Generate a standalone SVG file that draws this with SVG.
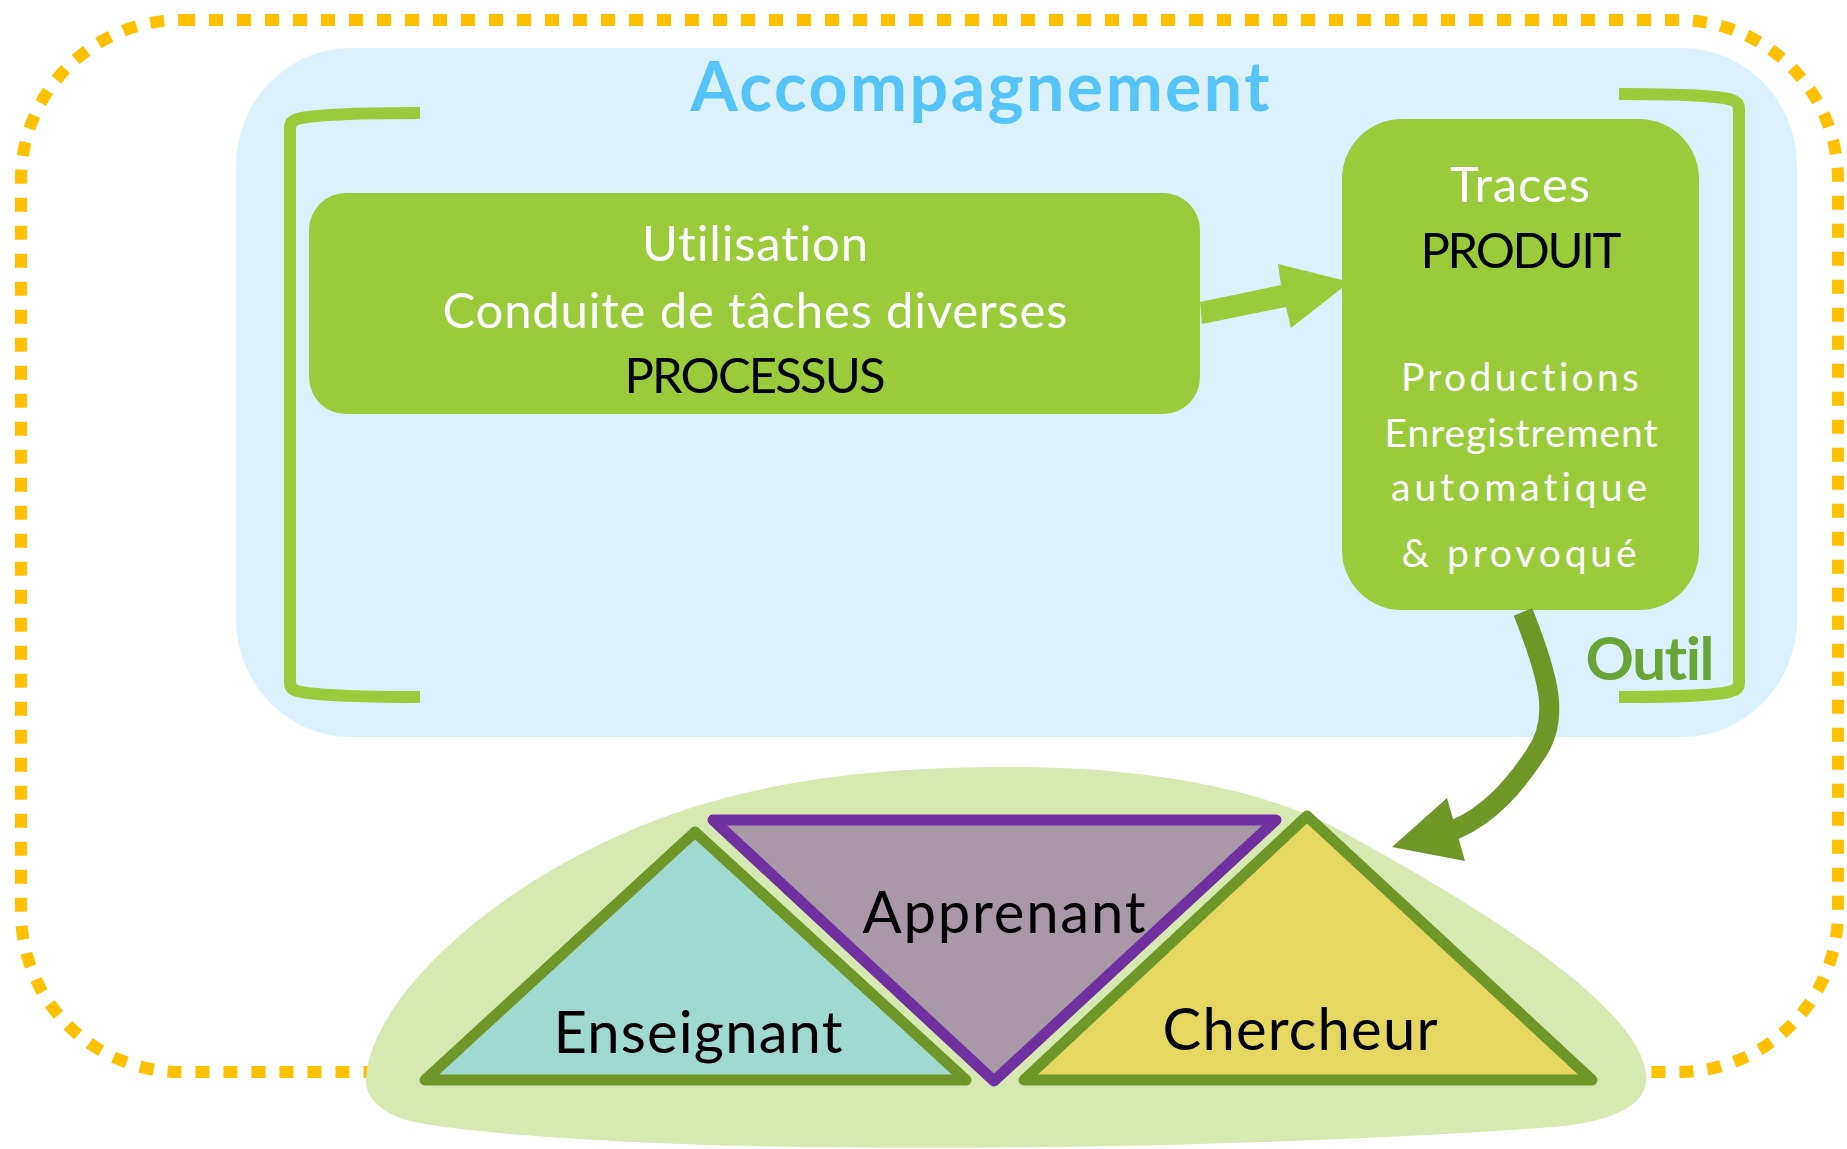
<svg xmlns="http://www.w3.org/2000/svg" width="1847" height="1149" viewBox="0 0 1847 1149">
  <style>
    .lbl { font-family: Lato, "Open Sans", "Liberation Sans", sans-serif; text-anchor: middle; font-variant-ligatures: none; font-feature-settings: "liga" 0, "clig" 0; }
    .box { fill: #9ACB3A; }
    .w { fill: #FFFFFF; }
    .k { fill: #000000; }
    .bracket { fill: none; stroke: #9ACB3A; stroke-width: 12; }
    .tri { stroke-width: 11; stroke-linejoin: round; }
  </style>
  <rect x="0" y="0" width="1847" height="1149" fill="#FFFFFF"/>
  <g id="outer-border">
    <rect x="21" y="20" width="1817" height="1052" rx="160" ry="160" fill="none" stroke="#FFC000" stroke-width="12" stroke-dasharray="14 14"/>
  </g>
  <g id="accompagnement">
    <rect x="236" y="48" width="1561" height="689" rx="115" ry="118" fill="#DBF1FB"/>
    <text class="lbl" x="980" y="111" font-size="68" font-weight="bold" fill="#55C4F8" textLength="579">Accompagnement</text>
  </g>
  <g id="acteurs-fond">
    <path d="M366,1080 C370,990 520,860 700,805 C800,775 900,767 1014,767 C1150,767 1260,790 1330,825 C1450,890 1640,1000 1646,1075 C1650,1110 1600,1125 1540,1128 C1300,1145 1000,1150 810,1147 C600,1145 430,1130 400,1118 C375,1108 366,1095 366,1080 Z" fill="#D7E9B1"/>
  </g>
  <g id="outil">
    <path class="bracket" d="M420,113 Q320,113 297,119 Q290,121 290,128 L290,683 Q290,689 297,691 Q320,697 420,697"/>
    <path class="bracket" d="M1619,94 Q1715,94 1732,100 Q1739,102 1739,109 L1739,683 Q1739,689 1732,691 Q1715,697 1619,697"/>
    <text class="lbl" x="1650" y="680" font-size="60" font-weight="bold" fill="#67A536" textLength="129">Outil</text>
  </g>
  <g id="processus">
    <rect class="box" x="309" y="193" width="891" height="221" rx="37" ry="37"/>
    <text class="lbl w" x="755" y="261" font-size="49" textLength="226">Utilisation</text>
    <text class="lbl w" x="755" y="328" font-size="49" textLength="625">Conduite de tâches diverses</text>
    <text class="lbl k" x="755" y="393" font-size="49" textLength="261">PROCESSUS</text>
  </g>
  <g id="produit">
    <rect class="box" x="1342" y="119" width="357" height="491" rx="60" ry="60"/>
    <text class="lbl w" x="1520" y="202" font-size="49" textLength="140">Traces</text>
    <text class="lbl k" x="1521" y="268" font-size="49" textLength="201">PRODUIT</text>
    <text class="lbl w" x="1520" y="391" font-size="39" textLength="238">Productions</text>
    <text class="lbl w" x="1521" y="447" font-size="39" textLength="273">Enregistrement</text>
    <text class="lbl w" x="1519" y="501" font-size="39" textLength="256">automatique</text>
    <text class="lbl w" x="1519" y="567" font-size="39" textLength="235">&amp; provoqué</text>
  </g>
  <g id="enseignant">
    <polygon class="tri" points="695,832 425,1080 966,1080" fill="#A0D9CF" stroke="#6F9628"/>
    <text class="lbl k" x="698" y="1053" font-size="58" textLength="289">Enseignant</text>
  </g>
  <g id="apprenant">
    <polygon class="tri" points="713,820 1276,820 994,1081" fill="#A898A8" stroke="#7030A0"/>
    <text class="lbl k" x="1004" y="933" font-size="58" textLength="283">Apprenant</text>
  </g>
  <g id="chercheur">
    <polygon class="tri" points="1307,816 1024,1080 1592,1080" fill="#E6D760" stroke="#6F9628"/>
    <text class="lbl k" x="1300" y="1050" font-size="58" textLength="275">Chercheur</text>
  </g>
  <g id="connectors">
    <polygon points="1200,302 1281,285 1278,264 1342,280 1342,288 1291,328 1286,307 1202,324" fill="#9ACB3A"/>
    <path d="M1523,612 C1550,680 1560,720 1535,755 C1515,785 1490,815 1454,830" fill="none" stroke="#709628" stroke-width="20"/>
    <polygon points="1447,798 1392,847 1465,861" fill="#709628"/>
  </g>
</svg>
